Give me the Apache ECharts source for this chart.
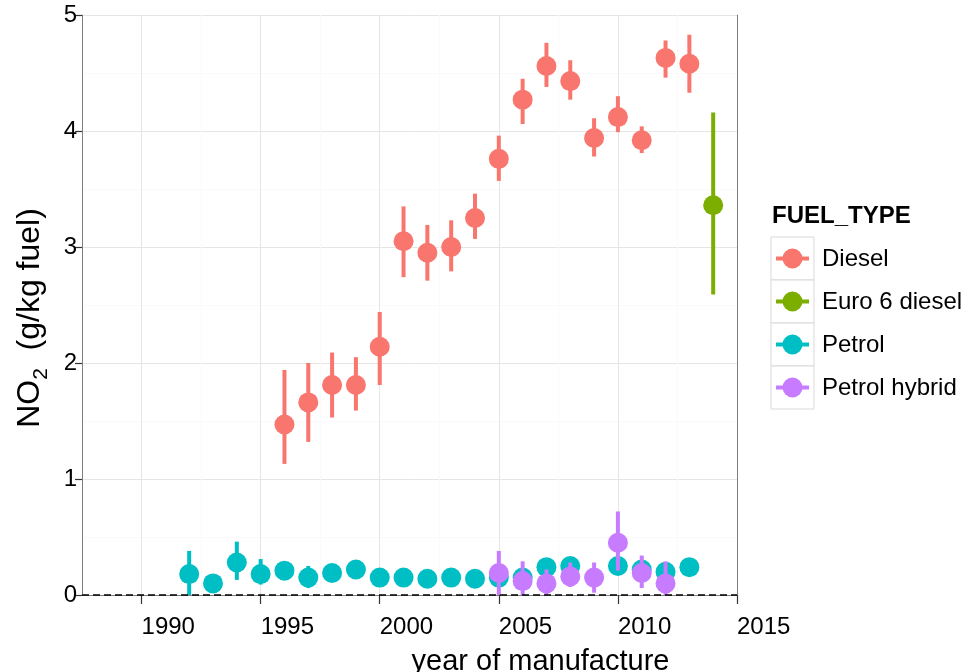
<!DOCTYPE html>
<html>
<head>
<meta charset="utf-8">
<script src="https://cdn.jsdelivr.net/npm/echarts@6/dist/echarts.min.js"></script>
<style>
  html, body { margin: 0; padding: 0; background: #ffffff; }
  #chart { width: 977px; height: 672px; }
</style>
</head>
<body>
<div id="chart"></div>
<script>
// NO2 emission factor by year of manufacture, mean with interval, per fuel type
const fuelTypes = ['Diesel', 'Euro 6 diesel', 'Petrol', 'Petrol hybrid'];
const fuelColors = ['#F8766D', '#7CAE00', '#00BFC4', '#C77CFF'];

const dieselYears = [1996, 1997, 1998, 1999, 2000, 2001, 2002, 2003, 2004, 2005, 2006, 2007, 2008, 2009, 2010, 2011, 2012, 2013];
const dieselNO2   = [1.47, 1.66, 1.81, 1.81, 2.14, 3.05, 2.95, 3.00, 3.25, 3.76, 4.27, 4.56, 4.43, 3.94, 4.12, 3.92, 4.63, 4.58];
const dieselLow   = [1.13, 1.32, 1.53, 1.59, 1.81, 2.74, 2.71, 2.79, 3.07, 3.57, 4.06, 4.38, 4.27, 3.78, 3.99, 3.81, 4.46, 4.33];
const dieselHigh  = [1.94, 2.00, 2.09, 2.05, 2.44, 3.35, 3.19, 3.23, 3.46, 3.96, 4.45, 4.76, 4.61, 4.11, 4.30, 4.04, 4.78, 4.83];

const euro6Years = [2014];
const euro6NO2   = [3.36];
const euro6Low   = [2.59];
const euro6High  = [4.16];

const petrolYears = [1992, 1993, 1994, 1995, 1996, 1997, 1998, 1999, 2000, 2001, 2002, 2003, 2004, 2005, 2006, 2007, 2008, 2010, 2011, 2012, 2013];
const petrolNO2   = [0.18, 0.10, 0.28, 0.18, 0.21, 0.15, 0.19, 0.22, 0.15, 0.15, 0.14, 0.15, 0.14, 0.15, 0.15, 0.24, 0.25, 0.25, 0.22, 0.20, 0.24];
const petrolLow   = [0.00, 0.05, 0.13, 0.09, 0.15, 0.06, 0.14, 0.17, 0.10, 0.11, 0.10, 0.11, 0.10, 0.10, 0.10, 0.19, 0.20, 0.20, 0.17, 0.15, 0.19];
const petrolHigh  = [0.38, 0.15, 0.46, 0.31, 0.27, 0.25, 0.24, 0.27, 0.20, 0.20, 0.18, 0.19, 0.18, 0.20, 0.20, 0.29, 0.30, 0.30, 0.27, 0.25, 0.29];

const hybridYears = [2005, 2006, 2007, 2008, 2009, 2010, 2011, 2012];
const hybridNO2   = [0.19, 0.12, 0.10, 0.16, 0.15, 0.45, 0.19, 0.10];
const hybridLow   = [0.00, 0.00, 0.00, 0.07, 0.02, 0.21, 0.06, 0.00];
const hybridHigh  = [0.38, 0.29, 0.22, 0.28, 0.28, 0.72, 0.34, 0.29];

const xTickValues = [1990, 1995, 2000, 2005, 2010, 2015];
const xMin = 1987.5, xMax = 2015;
const yMin = 0, yMax = 5;

const groups = [
  [dieselYears, dieselNO2, dieselLow, dieselHigh],
  [euro6Years, euro6NO2, euro6Low, euro6High],
  [petrolYears, petrolNO2, petrolLow, petrolHigh],
  [hybridYears, hybridNO2, hybridLow, hybridHigh]
];

const FONT = '"Liberation Sans", Arial, sans-serif';
const POINT_R = 10;
const BORDER = '#7f7f7f';

function rows(g) {
  return g[0].map((yr, i) => [yr, g[1][i], g[2][i], g[3][i]]);
}

// vertical interval line with a filled dot at the mean
function renderPointRange(params, api) {
  const x = api.value(0);
  const c = api.coord([x, api.value(1)]);
  const lo = api.coord([x, api.value(2)]);
  const hi = api.coord([x, api.value(3)]);
  const color = api.visual('color');
  return {
    type: 'group',
    children: [
      { type: 'line', shape: { x1: lo[0], y1: lo[1], x2: hi[0], y2: hi[1] },
        style: { stroke: color, lineWidth: 4 } },
      { type: 'circle', shape: { cx: c[0], cy: c[1], r: POINT_R },
        style: { fill: color } }
    ]
  };
}

const series = fuelTypes.map((name, k) => ({
  name: name,
  type: 'custom',
  xAxisIndex: 0,
  yAxisIndex: 0,
  clip: true,
  itemStyle: { color: fuelColors[k] },
  encode: { x: 0, y: [1, 2, 3] },
  renderItem: renderPointRange,
  data: rows(groups[k]),
  z: 3
}));

// dashed reference line at zero
series.push({
  type: 'line',
  data: [],
  xAxisIndex: 0,
  yAxisIndex: 0,
  markLine: {
    silent: true,
    symbol: 'none',
    label: { show: false },
    lineStyle: { color: '#000000', type: [7, 4], width: 1.5 },
    data: [{ yAxis: 0 }]
  },
  z: 2
});

// legend keys
const legendLeft = 771, legendTop = 237, keyW = 43, keyH = 43;
const legendGraphics = [
  { type: 'text', left: legendLeft + 1, top: 204,
    style: { text: 'FUEL_TYPE', font: 'bold 24px ' + FONT, fill: '#000000' } }
];
fuelTypes.forEach((name, k) => {
  const y0 = legendTop + k * keyH;
  const cy = y0 + keyH / 2;
  legendGraphics.push(
    { type: 'rect', shape: { x: legendLeft, y: y0, width: keyW, height: keyH },
      style: { fill: '#ffffff', stroke: '#d9d9d9', lineWidth: 1 } },
    { type: 'line', shape: { x1: legendLeft + 5, y1: cy, x2: legendLeft + keyW - 5, y2: cy },
      style: { stroke: fuelColors[k], lineWidth: 4 } },
    { type: 'circle', shape: { cx: legendLeft + keyW / 2, cy: cy, r: POINT_R },
      style: { fill: fuelColors[k] } },
    { type: 'text', x: 822, y: cy + 1,
      style: { text: name, font: '24px ' + FONT, fill: '#000000', verticalAlign: 'middle' } }
  );
});

// y axis title with subscript
legendGraphics.push({
  type: 'text', x: 30, y: 318, rotation: Math.PI / 2,
  style: {
    text: '{a|NO}{b|2}{a|  (g/kg fuel)}',
    align: 'center', verticalAlign: 'middle',
    rich: {
      a: { fontFamily: FONT, fontSize: 32, fill: '#000000', lineHeight: 44 },
      b: { fontFamily: FONT, fontSize: 21, fill: '#000000', lineHeight: 21, verticalAlign: 'bottom' }
    }
  }
});

const chart = echarts.init(document.getElementById('chart'), null, { renderer: 'canvas' });
chart.setOption({
  animation: false,
  backgroundColor: '#ffffff',
  grid: {
    left: 82, right: 240, top: 15, bottom: 77,
    outerBoundsMode: 'none', containLabel: false,
    show: false
  },
  xAxis: [
    {
      // data axis: gridlines every 2.5 years, top border of the panel
      type: 'value', min: xMin, max: xMax, interval: 2.5, position: 'top',
      axisLine: { show: true, lineStyle: { color: BORDER, width: 1 } },
      axisTick: { show: false },
      axisLabel: { show: false },
      splitLine: { show: true, lineStyle: { color: ['#fafafa', '#e5e5e5'], width: 1 } }
    },
    {
      // bottom border, tick marks and year labels every 5 years
      type: 'value', min: xMin, max: xMax, interval: 2.5, position: 'bottom', offset: 2,
      axisLine: { show: true, lineStyle: { color: BORDER, width: 1 } },
      axisTick: { show: true, customValues: xTickValues, length: 9,
                  lineStyle: { color: '#333333', width: 1.2 } },
      axisLabel: { show: true, customValues: xTickValues, align: 'left', margin: 18,
                   formatter: v => String(v),
                   fontFamily: FONT, fontSize: 24, color: '#000000' },
      splitLine: { show: false },
      name: 'year of manufacture', nameLocation: 'middle', nameGap: 50,
      nameTextStyle: { fontFamily: FONT, fontSize: 29, color: '#000000', padding: [0, 0, 0, 262] }
    }
  ],
  yAxis: [
    {
      type: 'value', min: yMin, max: yMax, interval: 1,
      axisLine: { show: true, lineStyle: { color: BORDER, width: 1 } },
      axisTick: { show: true, length: 7, lineStyle: { color: '#333333', width: 1.2 } },
      axisLabel: { margin: 5, fontFamily: FONT, fontSize: 24, color: '#000000', padding: [8, 0, 0, 0] },
      splitLine: { show: true, lineStyle: { color: '#e5e5e5', width: 1 } },
      minorTick: { show: false, splitNumber: 2 },
      minorSplitLine: { show: true, lineStyle: { color: '#fafafa', width: 1 } }
    },
    {
      // right border of the panel
      type: 'value', min: yMin, max: yMax, interval: 1, position: 'right',
      axisLine: { show: true, lineStyle: { color: BORDER, width: 1 } },
      axisTick: { show: false },
      axisLabel: { show: false },
      splitLine: { show: false }
    }
  ],
  graphic: legendGraphics,
  series: series
});
</script>
</body>
</html>
